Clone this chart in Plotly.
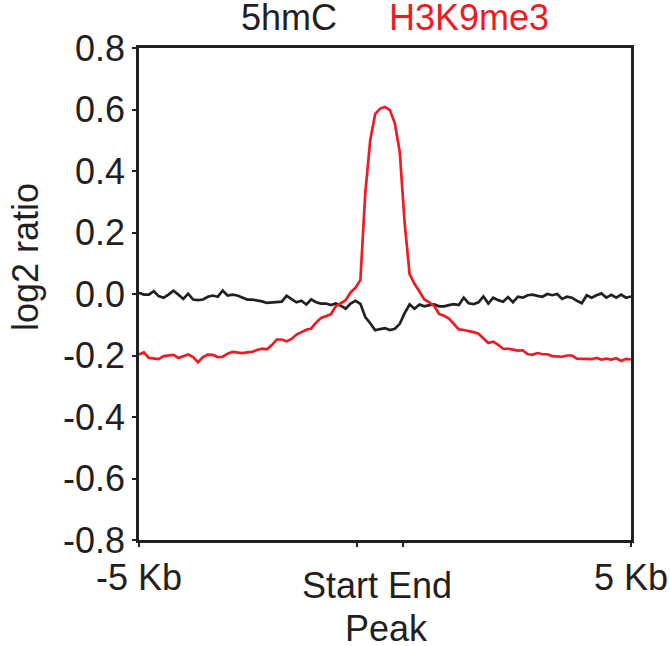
import numpy as np
import plotly.graph_objects as go

# bin positions (kb from peak), -5 kb .. +5 kb
positions = np.linspace(-5, 5, 101)

hmc_5 = [
    0.004, -0.002, -0.002, 0.009, -0.007, -0.012, -0.002, 0.011, -0.002, -0.016,
    0.001, -0.018, -0.020, -0.018, -0.009, -0.005, -0.009, 0.011, -0.005, -0.002,
    -0.005, -0.012, -0.018, -0.018, -0.020, -0.024, -0.029, -0.028, -0.027, -0.025,
    -0.006, -0.016, -0.027, -0.022, -0.034, -0.018, -0.027, -0.031, -0.031, -0.036,
    -0.031, -0.038, -0.048, -0.031, -0.022, -0.032, -0.075, -0.095, -0.118, -0.114,
    -0.111, -0.117, -0.113, -0.097, -0.062, -0.034, -0.048, -0.034, -0.040, -0.036,
    -0.034, -0.040, -0.040, -0.036, -0.033, -0.036, -0.012, -0.030, -0.033, -0.027,
    -0.008, -0.031, -0.012, -0.020, -0.025, -0.010, -0.027, -0.009, -0.012, -0.004,
    -0.002, -0.006, -0.009, 0.000, -0.004, 0.000, -0.016, -0.009, -0.012, -0.022,
    -0.030, -0.004, -0.012, -0.004, 0.002, -0.012, -0.003, -0.012, -0.002, -0.012,
    -0.008,
]

h3k9me3 = [
    -0.197, -0.190, -0.208, -0.211, -0.212, -0.202, -0.200, -0.198, -0.208, -0.203,
    -0.197, -0.205, -0.222, -0.205, -0.197, -0.198, -0.205, -0.204, -0.194, -0.188,
    -0.190, -0.192, -0.190, -0.188, -0.182, -0.178, -0.180, -0.166, -0.148, -0.148,
    -0.154, -0.146, -0.132, -0.125, -0.116, -0.112, -0.093, -0.078, -0.071, -0.066,
    -0.040, -0.030, -0.020, 0.005, 0.020, 0.045, 0.330, 0.500, 0.585, 0.603,
    0.608, 0.598, 0.555, 0.462, 0.230, 0.065, 0.033, 0.008, -0.018, -0.027,
    -0.039, -0.065, -0.071, -0.080, -0.097, -0.115, -0.117, -0.120, -0.124, -0.129,
    -0.145, -0.159, -0.155, -0.165, -0.178, -0.178, -0.181, -0.184, -0.183, -0.196,
    -0.197, -0.192, -0.196, -0.196, -0.202, -0.202, -0.204, -0.200, -0.200, -0.210,
    -0.211, -0.213, -0.212, -0.208, -0.213, -0.210, -0.213, -0.209, -0.218, -0.211,
    -0.213,
]

x_ticks = [-5, -0.56, 0.36, 5]
x_ticktext = ["-5 Kb", "", "", "5 Kb"]
y_ticks = [0.8, 0.6, 0.4, 0.2, 0.0, -0.2, -0.4, -0.6, -0.8]
y_ticktext = ["0.8", "0.6", "0.4", "0.2", "0.0", "-0.2", "-0.4", "-0.6", "-0.8"]

dark = "#231f20"
red = "#ed1c24"
font = dict(family="Liberation Sans, Arial, sans-serif", size=36, color=dark)

W, H = 670, 646
L, R, T, B = 139, 39, 48, 106
pw, ph = W - L - R, H - T - B
def px(x): return (x - L) / pw
def py(y): return (H - B - y) / ph

fig = go.Figure()
fig.add_trace(go.Scatter(x=positions, y=hmc_5, mode="lines", name="5hmC",
                         line=dict(color=dark, width=2.7)))
fig.add_trace(go.Scatter(x=positions, y=h3k9me3, mode="lines", name="H3K9me3",
                         line=dict(color=red, width=2.7)))

fig.update_layout(
    width=W, height=H,
    margin=dict(l=L, r=R, t=T, b=B, autoexpand=False),
    plot_bgcolor="white", paper_bgcolor="white",
    showlegend=False,
    font=font,
)
fig.update_xaxes(range=[-5, 5], tickvals=x_ticks, ticktext=x_ticktext,
                 ticks="outside", ticklen=4, tickwidth=2, tickcolor=dark,
                 showline=True, linewidth=2.5, linecolor=dark, mirror=True,
                 showgrid=False, zeroline=False, tickfont=font,
                 automargin=False, ticklabeloverflow="allow")
fig.update_yaxes(range=[-0.8, 0.8], tickvals=y_ticks, ticktext=y_ticktext,
                 ticks="outside", ticklen=4, tickwidth=2, tickcolor=dark,
                 showline=True, linewidth=2.5, linecolor=dark, mirror=True,
                 showgrid=False, zeroline=False, tickfont=font,
                 automargin=False, ticklabeloverflow="allow")

def label(text, x, y, color=dark, angle=0):
    fig.add_annotation(text=text, x=px(x), y=py(y), xref="paper", yref="paper",
                       xanchor="center", yanchor="middle", showarrow=False,
                       textangle=angle, font=dict(font, color=color))

label("5hmC", 289, 18)
label("H3K9me3", 469, 18, color=red)
label("log2 ratio", 25, 257, angle=-90)
label("Start End", 377, 585)
label("Peak", 386, 628)

# drop the default page margin so the figure sits at the window corner
fig.write_html("out.html", config={"displayModeBar": False},
               post_script="document.body.style.margin='0';"
                           "document.body.style.overflow='hidden';")
